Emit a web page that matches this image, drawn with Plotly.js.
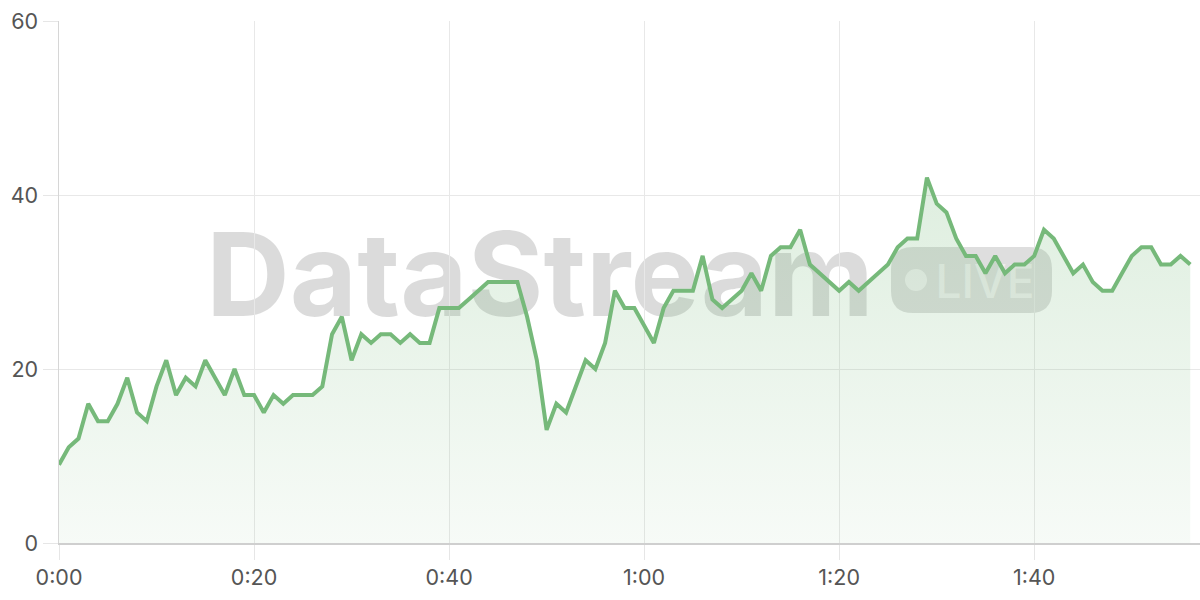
<!DOCTYPE html>
<html>
<head>
<meta charset="utf-8">
<script src="https://cdn.plot.ly/plotly-3.0.1.min.js"></script>
<style>
  html, body { margin: 0; padding: 0; background: #ffffff; }
  #chart { width: 1200px; height: 600px; }
</style>
</head>
<body>
<div id="chart"></div>
<script>
// Elapsed time (seconds) and value series
const seconds = Array.from({length: 117}, (_, i) => i);
const values = [
  9, 11, 12, 16, 14, 14, 16, 19, 15, 14,
  18, 21, 17, 19, 18, 21, 19, 17, 20, 17,
  17, 15, 17, 16, 17, 17, 17, 18, 24, 26,
  21, 24, 23, 24, 24, 23, 24, 23, 23, 27,
  27, 27, 28, 29, 30, 30, 30, 30, 26, 21,
  13, 16, 15, 18, 21, 20, 23, 29, 27, 27,
  25, 23, 27, 29, 29, 29, 33, 28, 27, 28,
  29, 31, 29, 33, 34, 34, 36, 32, 31, 30,
  29, 30, 29, 30, 31, 32, 34, 35, 35, 42,
  39, 38, 35, 33, 33, 31, 33, 31, 32, 32,
  33, 36, 35, 33, 31, 32, 30, 29, 29, 31,
  33, 34, 34, 32, 32, 33, 32
];
const xTickVals = [0, 20, 40, 60, 80, 100];
const xTickText = ["0:00", "0:20", "0:40", "1:00", "1:20", "1:40"];
const yTickVals = [0, 20, 40, 60];
const watermarkText = "DataStream";
const badgeText = "LIVE";

// plot-area geometry helpers (pixel -> paper)
const PL = 59, PR = 1200, PT = 21, PB = 543;
const px = v => (v - PL) / (PR - PL);
const py = v => (PB - v) / (PB - PT);

function roundRectPath(x0, y0, x1, y1, r) {
  const rx = r / (PR - PL), ry = r / (PB - PT);
  const X0 = px(x0), X1 = px(x1), Y0 = py(y1), Y1 = py(y0); // Y0 bottom, Y1 top
  return `M ${X0 + rx},${Y0} L ${X1 - rx},${Y0} Q ${X1},${Y0} ${X1},${Y0 + ry} ` +
         `L ${X1},${Y1 - ry} Q ${X1},${Y1} ${X1 - rx},${Y1} ` +
         `L ${X0 + rx},${Y1} Q ${X0},${Y1} ${X0},${Y1 - ry} ` +
         `L ${X0},${Y0 + ry} Q ${X0},${Y0} ${X0 + rx},${Y0} Z`;
}

const green = 'rgb(118,185,122)';

const trace = {
  x: seconds,
  y: values,
  type: 'scatter',
  mode: 'lines',
  line: { color: green, width: 4, shape: 'linear' },
  fill: 'tozeroy',
  fillgradient: {
    type: 'vertical',
    start: 0,
    stop: 42,
    colorscale: [[0, 'rgba(118,185,122,0.06)'], [1, 'rgba(118,185,122,0.24)']]
  },
  hoverinfo: 'skip'
};

const layout = {
  width: 1200,
  height: 600,
  margin: { l: PL, r: 1200 - PR, t: PT, b: 600 - PB },
  paper_bgcolor: '#ffffff',
  plot_bgcolor: '#ffffff',
  showlegend: false,
  font: { family: 'Inter, "DejaVu Sans", sans-serif', size: 21, color: '#555555' },
  xaxis: {
    range: [0, 117],
    tickvals: xTickVals,
    ticktext: xTickText,
    showgrid: true,
    gridcolor: '#e8e8e8',
    gridwidth: 1,
    zeroline: false,
    showline: true,
    linecolor: '#cfcfcf',
    linewidth: 1.5,
    ticks: 'outside',
    ticklen: 15,
    tickcolor: '#e6e6e6',
    tickwidth: 1,
    tickfont: { size: 21.5, color: '#555555' },
    fixedrange: true
  },
  yaxis: {
    range: [0, 60],
    tickvals: yTickVals,
    showgrid: true,
    gridcolor: '#e8e8e8',
    gridwidth: 1,
    zeroline: false,
    showline: true,
    linecolor: '#d6d6d6',
    linewidth: 1.5,
    ticks: 'outside',
    ticklen: 15,
    tickcolor: '#e6e6e6',
    tickwidth: 1,
    tickfont: { size: 21.5, color: '#555555' },
    fixedrange: true
  },
  shapes: [
    {
      type: 'rect', xref: 'paper', yref: 'paper', layer: 'between',
      x0: px(190), x1: px(890), y0: py(320), y1: py(220),
      line: { width: 0 }, fillcolor: 'rgba(0,0,0,0)',
      label: {
        text: watermarkText, textposition: 'middle center',
        font: { family: 'Inter, "Liberation Sans", sans-serif', size: 116, weight: 700, color: 'rgba(0,0,0,0.14)' }
      }
    },
    {
      type: 'path', xref: 'paper', yref: 'paper', layer: 'between',
      path: roundRectPath(891, 247, 1052, 313, 22),
      line: { width: 0 }, fillcolor: 'rgba(0,0,0,0.13)'
    },
    {
      type: 'circle', xref: 'paper', yref: 'paper', layer: 'between',
      x0: px(905), x1: px(927), y0: py(291), y1: py(269),
      line: { width: 0 }, fillcolor: 'rgba(255,255,255,0.55)'
    },
    {
      type: 'rect', xref: 'paper', yref: 'paper', layer: 'between',
      x0: px(930), x1: px(1040), y0: py(313), y1: py(247),
      line: { width: 0 }, fillcolor: 'rgba(0,0,0,0)',
      label: {
        text: badgeText, textposition: 'middle center',
        font: { family: 'Inter, "Liberation Sans", sans-serif', size: 46, weight: 500, color: 'rgba(255,255,255,0.55)' }
      }
    }
  ]
};

Plotly.newPlot('chart', [trace], layout, { staticPlot: true, displayModeBar: false });
</script>
</body>
</html>
